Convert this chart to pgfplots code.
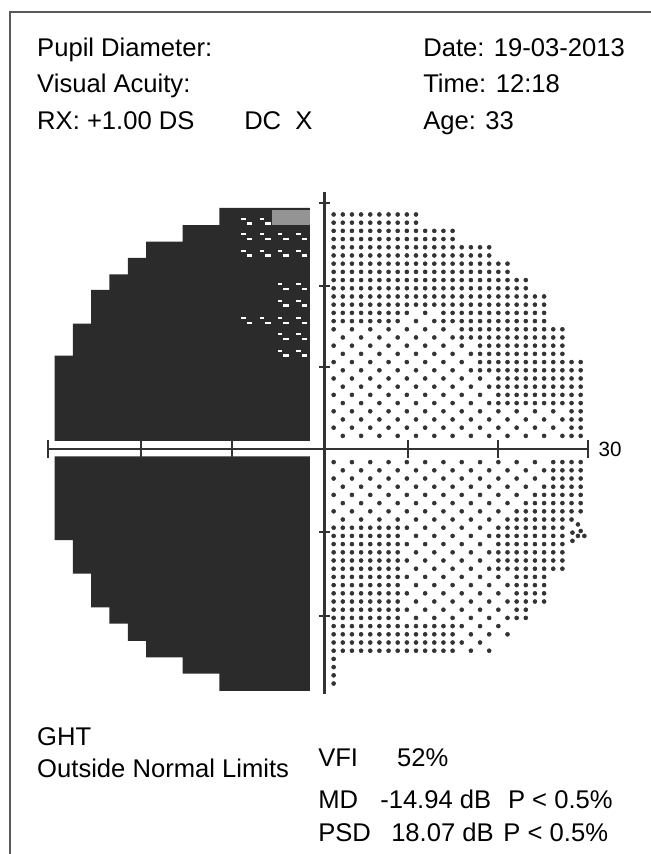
\documentclass[border=0pt]{standalone}
\usepackage{fontspec}
\setmainfont{Liberation Sans}
\usepackage{pgfplots}
\pgfplotsset{compat=1.18}
\definecolor{blk}{gray}{0.17}
\definecolor{dotc}{gray}{0.2}
\definecolor{framec}{gray}{0.35}
\definecolor{chk}{gray}{0.58}
\definecolor{axc}{gray}{0.2}
\newcommand{\txt}{\fontsize{19.2}{23}\selectfont}
\begin{document}
\begin{tikzpicture}
\begin{axis}[scale only axis, width=488.25pt, height=640.5pt,
  xmin=-35.464, xmax=35.683, ymin=-49.39, ymax=54.756,
  hide axis, clip=false]
% frame
\addplot[draw=framec, line width=1.1pt] coordinates {(-34.37,-49.39) (-34.37,53.29) (35.683,53.29)};
% black regions
\addplot[draw=none, fill=blk] coordinates {(-1.6,1.0) (-29.5,1.0) (-29.5,11.4) (-27.5,11.4) (-27.5,15.3) (-25.5,15.3) (-25.5,19.4) (-23.5,19.4) (-23.5,21.3) (-21.5,21.3) (-21.5,23.3) (-19.5,23.3) (-19.5,25.3) (-15.5,25.3) (-15.5,27.3) (-11.5,27.3) (-11.5,29.4) (-1.6,29.4)} -- cycle;
\addplot[draw=none, fill=blk] coordinates {(-1.6,-0.9) (-29.5,-0.9) (-29.5,-11.1) (-27.5,-11.1) (-27.5,-15.2) (-25.5,-15.2) (-25.5,-19.3) (-23.5,-19.3) (-23.5,-21.3) (-21.5,-21.3) (-21.5,-23.4) (-19.5,-23.4) (-19.5,-25.4) (-15.5,-25.4) (-15.5,-27.4) (-11.5,-27.4) (-11.5,-29.5) (-1.6,-29.5)} -- cycle;
% lighter checker cell
\addplot[draw=none, fill=chk] coordinates {(-5.7,27.3) (-1.6,27.3) (-1.6,29.2) (-5.7,29.2)} -- cycle;
% white specks
\addplot[only marks, mark=-, mark size=1.6pt, line width=1.5pt, white] coordinates {(-8.85,28.1)(-6.85,28.1)(-8.85,26.2)(-6.85,26.2)(-4.85,26.2)(-2.85,26.2)(-8.85,24.2)(-6.85,24.2)(-4.85,24.2)(-2.85,24.2)(-4.85,20.1)(-2.85,20.1)(-4.85,18.1)(-2.85,18.1)(-8.85,16.0)(-6.85,16.0)(-4.85,16.0)(-2.85,16.0)(-4.85,14.0)(-2.85,14.0)(-4.85,12.0)(-2.85,12.0)};
\addplot[only marks, mark=-, mark size=2.1pt, line width=1.6pt, white] coordinates {(-8.2,27.5)(-6.2,27.5)(-8.2,25.6)(-6.2,25.6)(-4.2,25.6)(-2.2,25.6)(-8.2,23.6)(-6.2,23.6)(-4.2,23.6)(-2.2,23.6)(-4.2,19.5)(-2.2,19.5)(-4.2,17.5)(-2.2,17.5)(-8.2,15.4)(-6.2,15.4)(-4.2,15.4)(-2.2,15.4)(-4.2,13.4)(-2.2,13.4)(-4.2,11.4)(-2.2,11.4)};
% dots, upper right
\addplot[only marks, mark=*, mark size=1.5pt, dotc] coordinates {
(1,28.6)(2,28.6)(3,28.6)(4,28.6)(5,28.6)(6,28.6)(7,28.6)(8,28.6)(9,28.6)(10,28.6)
(1,27.6)(2,27.6)(3,27.6)(4,27.6)(5,27.6)(6,27.6)(7,27.6)(8,27.6)(9,27.6)(10,27.6)
(1,26.6)(2,26.6)(3,26.6)(4,26.6)(5,26.6)(6,26.6)(7,26.6)(8,26.6)(9,26.6)(10,26.6)(11,26.6)(12,26.6)(13,26.6)(14,26.6)
(1,25.6)(2,25.6)(3,25.6)(4,25.6)(5,25.6)(6,25.6)(7,25.6)(8,25.6)(9,25.6)(10,25.6)(11,25.6)(12,25.6)(13,25.6)(14,25.6)
(1,24.6)(2,24.6)(3,24.6)(4,24.6)(5,24.6)(6,24.6)(7,24.6)(8,24.6)(9,24.6)(10,24.6)(11,24.6)(12,24.6)(13,24.6)(14,24.6)(15,24.6)(16,24.6)(17,24.6)(18,24.6)
(1,23.6)(2,23.6)(3,23.6)(4,23.6)(5,23.6)(6,23.6)(7,23.6)(8,23.6)(9,23.6)(10,23.6)(11,23.6)(12,23.6)(13,23.6)(14,23.6)(15,23.6)(16,23.6)(17,23.6)(18,23.6)
(1,22.6)(2,22.6)(3,22.6)(4,22.6)(5,22.6)(6,22.6)(7,22.6)(8,22.6)(9,22.6)(10,22.6)(11,22.6)(12,22.6)(13,22.6)(14,22.6)(15,22.6)(16,22.6)(17,22.6)(18,22.6)(19,22.6)(20,22.6)
(1,21.6)(2,21.6)(3,21.6)(4,21.6)(5,21.6)(6,21.6)(7,21.6)(8,21.6)(9,21.6)(10,21.6)(11,21.6)(12,21.6)(13,21.6)(14,21.6)(15,21.6)(16,21.6)(17,21.6)(18,21.6)(19,21.6)(20,21.6)
(1,20.6)(2,20.6)(3,20.6)(4,20.6)(5,20.6)(6,20.6)(7,20.6)(8,20.6)(9,20.6)(10,20.6)(11,20.6)(12,20.6)(13,20.6)(14,20.6)(15,20.6)(16,20.6)(17,20.6)(18,20.6)(19,20.6)(20,20.6)(21,20.6)(22,20.6)
(1,19.6)(2,19.6)(3,19.6)(4,19.6)(5,19.6)(6,19.6)(7,19.6)(8,19.6)(9,19.6)(10,19.6)(11,19.6)(12,19.6)(13,19.6)(14,19.6)(15,19.6)(16,19.6)(17,19.6)(18,19.6)(19,19.6)(20,19.6)(21,19.6)(22,19.6)
(1,18.6)(2,18.6)(3,18.6)(4,18.6)(5,18.6)(6,18.6)(7,18.6)(8,18.6)(9,18.6)(10,18.6)(11,18.6)(12,18.6)(13,18.6)(14,18.6)(15,18.6)(16,18.6)(17,18.6)(18,18.6)(19,18.6)(20,18.6)(21,18.6)(22,18.6)(23,18.6)(24,18.6)
(1,17.6)(2,17.6)(3,17.6)(4,17.6)(5,17.6)(6,17.6)(7,17.6)(8,17.6)(9,17.6)(10,17.6)(11,17.6)(12,17.6)(13,17.6)(14,17.6)(15,17.6)(16,17.6)(17,17.6)(18,17.6)(19,17.6)(20,17.6)(21,17.6)(22,17.6)(23,17.6)(24,17.6)
(1,16.6)(2,16.6)(3,16.6)(4,16.6)(5,16.6)(6,16.6)(7,16.6)(8,16.6)(9,16.6)(11,16.6)(13,16.6)(14,16.6)(15,16.6)(16,16.6)(17,16.6)(18,16.6)(19,16.6)(20,16.6)(21,16.6)(22,16.6)(23,16.6)(24,16.6)
(1,15.6)(2,15.6)(3,15.6)(4,15.6)(5,15.6)(6,15.6)(7,15.6)(8,15.6)(10,15.6)(12,15.6)(13,15.6)(14,15.6)(15,15.6)(16,15.6)(17,15.6)(18,15.6)(19,15.6)(20,15.6)(21,15.6)(22,15.6)(23,15.6)(24,15.6)
(1,14.6)(3,14.6)(5,14.6)(7,14.6)(9,14.6)(11,14.6)(13,14.6)(15,14.6)(16,14.6)(17,14.6)(18,14.6)(19,14.6)(20,14.6)(21,14.6)(22,14.6)(23,14.6)(24,14.6)(25,14.6)(26,14.6)
(2,13.6)(4,13.6)(6,13.6)(8,13.6)(10,13.6)(12,13.6)(14,13.6)(15,13.6)(16,13.6)(17,13.6)(18,13.6)(19,13.6)(20,13.6)(21,13.6)(22,13.6)(23,13.6)(24,13.6)(25,13.6)(26,13.6)
(1,12.6)(3,12.6)(5,12.6)(7,12.6)(9,12.6)(11,12.6)(13,12.6)(15,12.6)(17,12.6)(18,12.6)(19,12.6)(20,12.6)(21,12.6)(22,12.6)(23,12.6)(24,12.6)(25,12.6)(26,12.6)
(2,11.6)(4,11.6)(6,11.6)(8,11.6)(10,11.6)(12,11.6)(14,11.6)(16,11.6)(17,11.6)(18,11.6)(19,11.6)(20,11.6)(21,11.6)(22,11.6)(23,11.6)(24,11.6)(25,11.6)(26,11.6)
(1,10.6)(3,10.6)(5,10.6)(7,10.6)(9,10.6)(11,10.6)(13,10.6)(15,10.6)(17,10.6)(18,10.6)(19,10.6)(20,10.6)(21,10.6)(22,10.6)(23,10.6)(24,10.6)(25,10.6)(26,10.6)(27,10.6)(28,10.6)
(2,9.6)(4,9.6)(6,9.6)(8,9.6)(10,9.6)(12,9.6)(14,9.6)(16,9.6)(17,9.6)(18,9.6)(19,9.6)(20,9.6)(21,9.6)(22,9.6)(23,9.6)(24,9.6)(25,9.6)(26,9.6)(27,9.6)(28,9.6)
(1,8.6)(3,8.6)(5,8.6)(7,8.6)(9,8.6)(11,8.6)(13,8.6)(15,8.6)(17,8.6)(19,8.6)(20,8.6)(21,8.6)(22,8.6)(23,8.6)(24,8.6)(25,8.6)(26,8.6)(27,8.6)(28,8.6)
(2,7.6)(4,7.6)(6,7.6)(8,7.6)(10,7.6)(12,7.6)(14,7.6)(16,7.6)(18,7.6)(19,7.6)(20,7.6)(21,7.6)(22,7.6)(23,7.6)(24,7.6)(25,7.6)(26,7.6)(27,7.6)(28,7.6)
(1,6.6)(3,6.6)(5,6.6)(7,6.6)(9,6.6)(11,6.6)(13,6.6)(15,6.6)(17,6.6)(19,6.6)(20,6.6)(21,6.6)(22,6.6)(23,6.6)(24,6.6)(25,6.6)(26,6.6)(27,6.6)(28,6.6)
(2,5.6)(4,5.6)(6,5.6)(8,5.6)(10,5.6)(12,5.6)(14,5.6)(16,5.6)(18,5.6)(19,5.6)(20,5.6)(21,5.6)(22,5.6)(23,5.6)(24,5.6)(25,5.6)(26,5.6)(27,5.6)(28,5.6)
(1,4.6)(3,4.6)(5,4.6)(7,4.6)(9,4.6)(11,4.6)(13,4.6)(15,4.6)(17,4.6)(19,4.6)(21,4.6)(23,4.6)(25,4.6)(27,4.6)(28,4.6)
(2,3.6)(4,3.6)(6,3.6)(8,3.6)(10,3.6)(12,3.6)(14,3.6)(16,3.6)(18,3.6)(20,3.6)(22,3.6)(24,3.6)(26,3.6)(27,3.6)(28,3.6)
(1,2.6)(3,2.6)(5,2.6)(7,2.6)(9,2.6)(11,2.6)(13,2.6)(15,2.6)(17,2.6)(19,2.6)(21,2.6)(23,2.6)(25,2.6)(27,2.6)(28,2.6)
(2,1.6)(4,1.6)(6,1.6)(8,1.6)(10,1.6)(12,1.6)(14,1.6)(16,1.6)(18,1.6)(20,1.6)(22,1.6)(24,1.6)(26,1.6)(27,1.6)(28,1.6)
};
% dots, lower right
\addplot[only marks, mark=*, mark size=1.5pt, dotc] coordinates {
(1,-1.6)(3,-1.6)(5,-1.6)(7,-1.6)(9,-1.6)(11,-1.6)(13,-1.6)(15,-1.6)(17,-1.6)(19,-1.6)(21,-1.6)(23,-1.6)(25,-1.6)(26,-1.6)(27,-1.6)(28,-1.6)
(2,-2.6)(4,-2.6)(6,-2.6)(8,-2.6)(10,-2.6)(12,-2.6)(14,-2.6)(16,-2.6)(18,-2.6)(20,-2.6)(22,-2.6)(24,-2.6)(25,-2.6)(26,-2.6)(27,-2.6)(28,-2.6)
(1,-3.6)(3,-3.6)(5,-3.6)(7,-3.6)(9,-3.6)(11,-3.6)(13,-3.6)(15,-3.6)(17,-3.6)(19,-3.6)(21,-3.6)(23,-3.6)(25,-3.6)(26,-3.6)(27,-3.6)(28,-3.6)
(2,-4.6)(4,-4.6)(6,-4.6)(8,-4.6)(10,-4.6)(12,-4.6)(14,-4.6)(16,-4.6)(18,-4.6)(20,-4.6)(22,-4.6)(24,-4.6)(25,-4.6)(26,-4.6)(27,-4.6)(28,-4.6)
(1,-5.6)(3,-5.6)(5,-5.6)(7,-5.6)(9,-5.6)(11,-5.6)(13,-5.6)(15,-5.6)(17,-5.6)(19,-5.6)(21,-5.6)(23,-5.6)(24,-5.6)(25,-5.6)(26,-5.6)(27,-5.6)(28,-5.6)
(2,-6.6)(4,-6.6)(6,-6.6)(8,-6.6)(10,-6.6)(12,-6.6)(14,-6.6)(16,-6.6)(18,-6.6)(20,-6.6)(22,-6.6)(23,-6.6)(24,-6.6)(25,-6.6)(26,-6.6)(27,-6.6)(28,-6.6)
(1,-7.6)(3,-7.6)(5,-7.6)(7,-7.6)(9,-7.6)(11,-7.6)(13,-7.6)(15,-7.6)(17,-7.6)(19,-7.6)(21,-7.6)(22,-7.6)(23,-7.6)(24,-7.6)(25,-7.6)(26,-7.6)(27,-7.6)(28,-7.6)
(2,-8.6)(4,-8.6)(6,-8.6)(8,-8.6)(10,-8.6)(12,-8.6)(14,-8.6)(16,-8.6)(18,-8.6)(20,-8.6)(21,-8.6)(22,-8.6)(23,-8.6)(24,-8.6)(25,-8.6)(26,-8.6)(27,-8.6)
(1,-9.6)(2,-9.6)(3,-9.6)(4,-9.6)(5,-9.6)(6,-9.6)(7,-9.6)(8,-9.6)(9,-9.6)(11,-9.6)(13,-9.6)(15,-9.6)(17,-9.6)(19,-9.6)(20,-9.6)(21,-9.6)(22,-9.6)(23,-9.6)(24,-9.6)(25,-9.6)(26,-9.6)
(1,-10.6)(2,-10.6)(3,-10.6)(4,-10.6)(5,-10.6)(6,-10.6)(7,-10.6)(8,-10.6)(10,-10.6)(12,-10.6)(14,-10.6)(16,-10.6)(18,-10.6)(19,-10.6)(20,-10.6)(21,-10.6)(22,-10.6)(23,-10.6)(24,-10.6)(25,-10.6)(26,-10.6)
(1,-11.6)(2,-11.6)(3,-11.6)(4,-11.6)(5,-11.6)(6,-11.6)(7,-11.6)(8,-11.6)(9,-11.6)(11,-11.6)(13,-11.6)(15,-11.6)(17,-11.6)(19,-11.6)(20,-11.6)(21,-11.6)(22,-11.6)(23,-11.6)(24,-11.6)(25,-11.6)(26,-11.6)
(1,-12.6)(2,-12.6)(3,-12.6)(4,-12.6)(5,-12.6)(6,-12.6)(7,-12.6)(8,-12.6)(10,-12.6)(12,-12.6)(14,-12.6)(16,-12.6)(18,-12.6)(19,-12.6)(20,-12.6)(21,-12.6)(22,-12.6)(23,-12.6)(24,-12.6)(25,-12.6)(26,-12.6)
(1,-13.6)(2,-13.6)(3,-13.6)(4,-13.6)(5,-13.6)(6,-13.6)(7,-13.6)(8,-13.6)(9,-13.6)(11,-13.6)(13,-13.6)(15,-13.6)(17,-13.6)(19,-13.6)(20,-13.6)(21,-13.6)(22,-13.6)(23,-13.6)(24,-13.6)(25,-13.6)(26,-13.6)
(1,-14.6)(2,-14.6)(3,-14.6)(4,-14.6)(5,-14.6)(6,-14.6)(7,-14.6)(8,-14.6)(10,-14.6)(12,-14.6)(14,-14.6)(16,-14.6)(18,-14.6)(19,-14.6)(20,-14.6)(21,-14.6)(22,-14.6)(23,-14.6)(24,-14.6)(25,-14.6)(26,-14.6)
(1,-15.6)(2,-15.6)(3,-15.6)(4,-15.6)(5,-15.6)(6,-15.6)(7,-15.6)(8,-15.6)(9,-15.6)(11,-15.6)(13,-15.6)(15,-15.6)(17,-15.6)(19,-15.6)(21,-15.6)(22,-15.6)(23,-15.6)(24,-15.6)
(1,-16.6)(2,-16.6)(3,-16.6)(4,-16.6)(5,-16.6)(6,-16.6)(7,-16.6)(8,-16.6)(10,-16.6)(12,-16.6)(14,-16.6)(16,-16.6)(18,-16.6)(20,-16.6)(21,-16.6)(22,-16.6)(23,-16.6)(24,-16.6)
(1,-17.6)(2,-17.6)(3,-17.6)(4,-17.6)(5,-17.6)(6,-17.6)(7,-17.6)(8,-17.6)(9,-17.6)(11,-17.6)(13,-17.6)(15,-17.6)(17,-17.6)(19,-17.6)(21,-17.6)(22,-17.6)(23,-17.6)(24,-17.6)
(1,-18.6)(2,-18.6)(3,-18.6)(4,-18.6)(5,-18.6)(6,-18.6)(7,-18.6)(8,-18.6)(10,-18.6)(12,-18.6)(14,-18.6)(16,-18.6)(18,-18.6)(20,-18.6)(21,-18.6)(22,-18.6)(23,-18.6)(24,-18.6)
(1,-19.6)(2,-19.6)(3,-19.6)(4,-19.6)(5,-19.6)(6,-19.6)(7,-19.6)(8,-19.6)(9,-19.6)(11,-19.6)(13,-19.6)(15,-19.6)(17,-19.6)(19,-19.6)(21,-19.6)(22,-19.6)
(1,-20.6)(2,-20.6)(3,-20.6)(4,-20.6)(5,-20.6)(6,-20.6)(7,-20.6)(8,-20.6)(10,-20.6)(12,-20.6)(14,-20.6)(16,-20.6)(18,-20.6)(20,-20.6)(21,-20.6)(22,-20.6)
(1,-21.6)(2,-21.6)(3,-21.6)(4,-21.6)(5,-21.6)(6,-21.6)(7,-21.6)(8,-21.6)(9,-21.6)(10,-21.6)(11,-21.6)(12,-21.6)(13,-21.6)(14,-21.6)(15,-21.6)(17,-21.6)(19,-21.6)
(1,-22.6)(2,-22.6)(3,-22.6)(4,-22.6)(5,-22.6)(6,-22.6)(7,-22.6)(8,-22.6)(9,-22.6)(10,-22.6)(11,-22.6)(12,-22.6)(13,-22.6)(14,-22.6)(16,-22.6)(18,-22.6)(20,-22.6)
(1,-23.6)(2,-23.6)(3,-23.6)(4,-23.6)(5,-23.6)(6,-23.6)(7,-23.6)(8,-23.6)(9,-23.6)(10,-23.6)(11,-23.6)(12,-23.6)(13,-23.6)(14,-23.6)(15,-23.6)(17,-23.6)
(1,-24.6)(2,-24.6)(3,-24.6)(4,-24.6)(5,-24.6)(6,-24.6)(7,-24.6)(8,-24.6)(9,-24.6)(10,-24.6)(11,-24.6)(12,-24.6)(13,-24.6)(14,-24.6)(16,-24.6)(18,-24.6)
(1,-25.6)(1,-26.6)(1,-27.6)(1,-28.6)
(27.7,-9.2)(28.0,-10.0)(27.1,-10.2)(27.7,-10.6)(28.4,-10.6)(27.1,-11.2)
};
% axes
\addplot[draw=axc, line width=1.6pt] coordinates {(-30.22,0) (28.80,0)};
\addplot[draw=axc, line width=1.6pt] coordinates {(0,31.4) (0,-29.9)};
\addplot[draw=axc, line width=1.3pt, unbounded coords=jump] coordinates {
(-30.22,-1.1) (-30.22,1.1) (nan,nan)
(-20.09,-1.1) (-20.09,1.1) (nan,nan)
(-10.14,-1.1) (-10.14,1.1) (nan,nan)
(9.13,-1.1) (9.13,1.1) (nan,nan)
(18.96,-1.1) (18.96,1.1) (nan,nan)
(28.80,-1.1) (28.80,1.1) (nan,nan)
(-0.55,30.0) (0.55,30.0) (nan,nan)
(-0.55,19.88) (0.55,19.88) (nan,nan)
(-0.55,10.0) (0.55,10.0) (nan,nan)
(-0.55,-10.12) (0.55,-10.12) (nan,nan)
(-0.55,-20.37) (0.55,-20.37)
};
% texts
\tikzset{lab/.style={anchor=base west, inner sep=0pt, font=\txt}}
\node[lab] at (rel axis cs:0.0568,0.9333) {Pupil Diameter:};
\node[lab] at (rel axis cs:0.6498,0.9333) {Date: 19-03-2013};
\node[lab] at (rel axis cs:0.0568,0.8911) {Visual Acuity:};
\node[lab] at (rel axis cs:0.6498,0.8911) {Time: 12:18};
\node[lab] at (rel axis cs:0.0568,0.8489) {RX: +1.00 DS};
\node[lab] at (rel axis cs:0.3748,0.8489) {DC\ \ X};
\node[lab] at (rel axis cs:0.6498,0.8489) {Age: 33};
\node[anchor=west, inner sep=0pt, font=\fontsize{15.5}{17}\selectfont] at (rel axis cs:0.9190,0.4742) {30};
\node[lab] at (rel axis cs:0.0568,0.1265) {GHT};
\node[lab] at (rel axis cs:0.0568,0.0890) {Outside Normal Limits};
\node[lab] at (rel axis cs:0.4885,0.1019) {VFI};
\node[lab] at (rel axis cs:0.6098,0.1019) {52\%};
\node[lab] at (rel axis cs:0.4885,0.0527) {MD};
\node[lab] at (rel axis cs:0.5837,0.0527) {-14.94 dB};
\node[lab] at (rel axis cs:0.7800,0.0527) {P < 0.5\%};
\node[lab] at (rel axis cs:0.4885,0.0152) {PSD};
\node[lab] at (rel axis cs:0.6006,0.0152) {18.07 dB};
\node[lab] at (rel axis cs:0.7730,0.0152) {P < 0.5\%};
\coordinate (SW) at (rel axis cs:0,0);
\coordinate (NE) at (rel axis cs:1,1);
\end{axis}
\pgfresetboundingbox
\useasboundingbox (SW) rectangle (NE);
\end{tikzpicture}
\end{document}
